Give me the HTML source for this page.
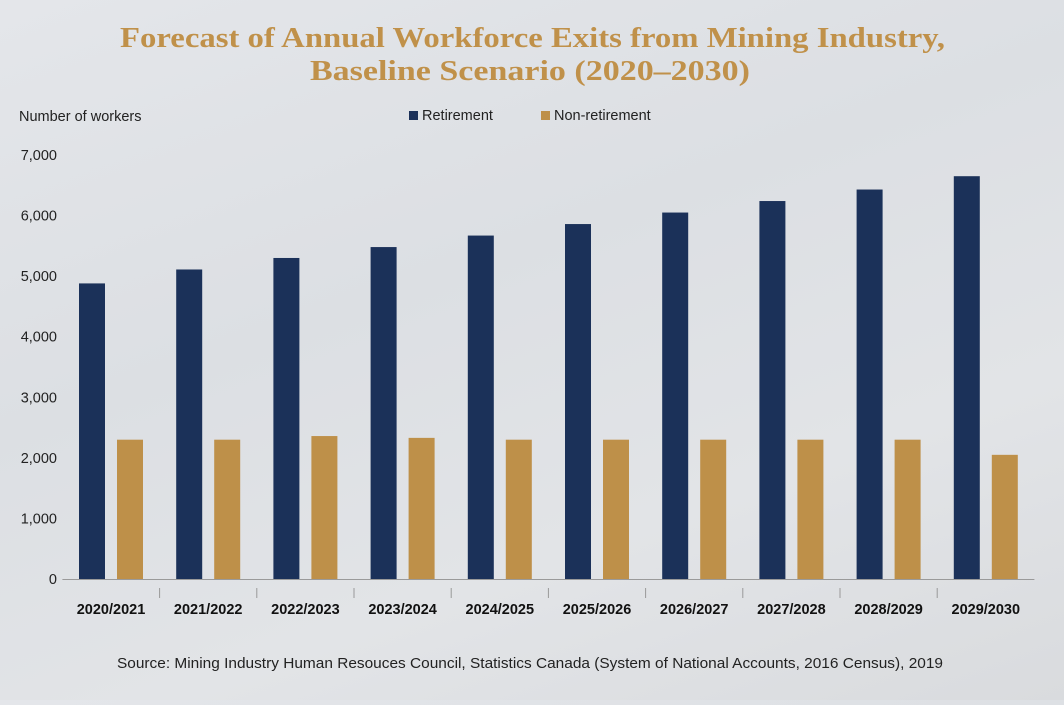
<!DOCTYPE html>
<html><head><meta charset="utf-8">
<style>
html,body{margin:0;padding:0;}
body{width:1064px;height:700px;overflow:hidden;background:linear-gradient(160deg,#e4e6ea 0%,#dcdfe3 40%,#e2e4e7 70%,#d9dbde 100%);font-family:"Liberation Sans",sans-serif;}
</style></head>
<body>
<svg width="1064" height="700" xmlns="http://www.w3.org/2000/svg">
<text x="120" y="47" textLength="825" lengthAdjust="spacingAndGlyphs" font-family="Liberation Serif, serif" font-weight="bold" font-size="28" fill="#c0914a">Forecast of Annual Workforce Exits from Mining Industry,</text>
<text x="310" y="80" textLength="440" lengthAdjust="spacingAndGlyphs" font-family="Liberation Serif, serif" font-weight="bold" font-size="28" fill="#c0914a">Baseline Scenario (2020–2030)</text>
<text x="19" y="121" font-size="14.5" fill="#222">Number of workers</text>
<g>
<rect x="409" y="111" width="9" height="9" fill="#1b3159"/>
<text x="422" y="120" font-size="14.5" fill="#222">Retirement</text>
<rect x="541" y="111" width="9" height="9" fill="#be9049"/>
<text x="554" y="120" font-size="14.5" fill="#222">Non-retirement</text>
</g>
<g id="plot"></g>
<text x="117" y="668" textLength="826" lengthAdjust="spacingAndGlyphs" font-size="14.5" fill="#222">Source: Mining Industry Human Resouces Council, Statistics Canada (System of National Accounts, 2016 Census), 2019</text>
</svg>
<script>
const categories=["2020/2021","2021/2022","2022/2023","2023/2024","2024/2025","2025/2026","2026/2027","2027/2028","2028/2029","2029/2030"];
const retirement=[4880,5110,5300,5480,5670,5860,6050,6240,6430,6650];
const nonRetirement=[2300,2300,2360,2330,2300,2300,2300,2300,2300,2050];
const yTicks=[0,1000,2000,3000,4000,5000,6000,7000];
const yTickLabels=["0","1,000","2,000","3,000","4,000","5,000","6,000","7,000"];
const NS="http://www.w3.org/2000/svg";
const g=document.getElementById('plot');
const L=62.4,R=1034.4,Y0=579,Y7=155;
const y=v=>Y0-(v/7000)*(Y0-Y7);
const bw=(R-L)/categories.length;
const x=i=>L+i*bw;
function mk(t,a){const e=document.createElementNS(NS,t);for(const k in a)e.setAttribute(k,a[k]);g.appendChild(e);return e;}
yTicks.forEach((v,i)=>{
 const t=mk('text',{x:57,y:y(v)+5,'text-anchor':'end','font-size':'14.5',fill:'#222'});
 t.textContent=yTickLabels[i];
 
 
});
categories.forEach((c,i)=>{
 const r=mk('rect',{x:x(i)+16.6,y:y(retirement[i]),width:26,height:Y0-y(retirement[i]),fill:'#1b3159'});
 
 
 const n=mk('rect',{x:x(i)+54.6,y:y(nonRetirement[i]),width:26,height:Y0-y(nonRetirement[i]),fill:'#be9049'});
 
 
 const t=mk('text',{x:x(i)+bw/2,y:614,'text-anchor':'middle','font-size':'14.5','font-weight':'bold',fill:'#111'});
 t.textContent=c;
 
 
 if(i>0){const tk=mk('line',{x1:x(i),x2:x(i),y1:588,y2:598,stroke:'#999','stroke-width':1});
 
 }
});
const ax=mk('line',{x1:L,x2:R,y1:Y0+0.5,y2:Y0+0.5,stroke:'#9a9a9a','stroke-width':1});


</script>
</body></html>
